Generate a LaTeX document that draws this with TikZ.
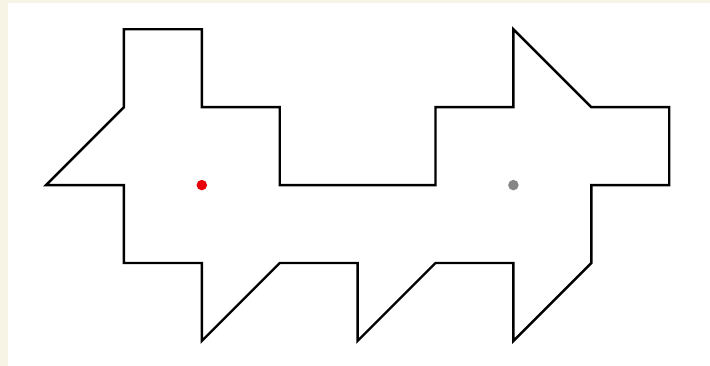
\documentclass[tikz,border=0pt]{standalone}
\definecolor{cream}{HTML}{F7F4E6}
\definecolor{dotgray}{HTML}{858585}
\definecolor{dotred}{HTML}{E8000B}
\begin{document}
\begin{tikzpicture}[x=1pt,y=-1pt,
  outline/.style={draw=black,line width=2.4pt,line join=miter},
  dot/.style={circle,inner sep=0pt,minimum size=10.5pt}]
\useasboundingbox (0,0) rectangle (710,366);
\fill[cream] (0,0) rectangle (710,366);
\fill[white] (8,3.5) rectangle (710,366);
\draw[outline] (46,185.1) -- (123.9,107.2) -- (123.9,29.3) -- (201.8,29.3) -- (201.8,107.2)
  -- (279.7,107.2) -- (279.7,185.1) -- (435.5,185.1) -- (435.5,107.2) -- (513.4,107.2)
  -- (513.4,29.3) -- (591.3,107.2) -- (669.2,107.2) -- (669.2,185.1) -- (591.3,185.1)
  -- (591.3,263) -- (513.4,340.9) -- (513.4,263) -- (435.5,263) -- (357.6,340.9)
  -- (357.6,263) -- (279.7,263) -- (201.8,340.9) -- (201.8,263) -- (123.9,263)
  -- (123.9,185.1) -- cycle;
\node[dot,fill=dotred] (red) at (201.8,185.1) {};
\node[dot,fill=dotgray] (gray) at (513.4,185.1) {};
\end{tikzpicture}
\end{document}
